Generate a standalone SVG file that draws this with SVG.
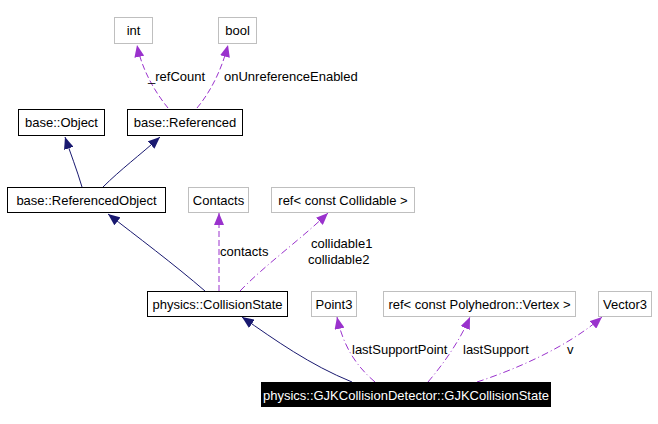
<svg xmlns="http://www.w3.org/2000/svg" width="658" height="424" viewBox="0 0 658 424">
<defs>
<marker id="an" markerUnits="userSpaceOnUse" markerWidth="13" markerHeight="10" refX="12" refY="5" orient="auto"><path d="M0,0 L12,5 L0,10 z" fill="#191970"/></marker>
<marker id="ap" markerUnits="userSpaceOnUse" markerWidth="13" markerHeight="10" refX="12" refY="5" orient="auto"><path d="M0,0 L12,5 L0,10 z" fill="#9a32cd"/></marker>
</defs>
<style>
text{font-family:"Liberation Sans",Arial,sans-serif;font-size:13px;fill:#000;text-anchor:middle}
.lbl{text-anchor:start}
.b rect{fill:#fff;stroke:#000;stroke-width:1}
.g rect{fill:#fff;stroke:#bfbfbf;stroke-width:1}
.n{fill:none;stroke:#191970;stroke-width:1;marker-end:url(#an)}
.d{fill:none;stroke:#9a32cd;stroke-width:1;stroke-dasharray:6,3;marker-end:url(#ap)}
.dd{fill:none;stroke:#9a32cd;stroke-width:1;stroke-dasharray:7,3,1,3;marker-end:url(#ap)}
</style>
<rect width="658" height="424" fill="#fff"/>
<g id="edges">
<path class="d" d="M168,108 C155,92 142,70 137,45"/>
<path class="d" d="M197,108 C212,90 222,68 228,45"/>
<path class="n" d="M82,187 C77,170 70,152 65,137"/>
<path class="n" d="M103,187 C120,170 140,155 160,137"/>
<path class="n" d="M205,291 C175,265 135,235 108,214"/>
<path class="d" d="M219,291 L219,213"/>
<path class="dd" d="M240,291 C265,265 300,240 328,213"/>
<path class="n" d="M352,382 C310,365 275,340 242,317"/>
<path class="dd" d="M375,382 C355,365 343,345 337,317"/>
<path class="dd" d="M428,382 C445,362 460,340 470,317"/>
<path class="dd" d="M477,382 C520,368 570,345 602,317"/>
<text class="lbl" x="148" y="81">_refCount</text>
<text class="lbl" x="224" y="81">onUnreferenceEnabled</text>
<text class="lbl" x="220" y="256">contacts</text>
<text class="lbl" x="311" y="248">collidable1</text>
<text class="lbl" x="308" y="264">collidable2</text>
<text class="lbl" x="352" y="354">lastSupportPoint</text>
<text class="lbl" x="463" y="354">lastSupport</text>
<text class="lbl" x="567" y="354">v</text>
</g>
<g id="int" class="g"><rect x="114.5" y="17.5" width="38" height="26"/><text x="133.5" y="35">int</text></g>
<g id="bool" class="g"><rect x="218.5" y="17.5" width="38" height="26"/><text x="237.5" y="35">bool</text></g>
<g id="base_Object" class="b"><rect x="18.5" y="109.5" width="86" height="26"/><text x="61.5" y="127">base::Object</text></g>
<g id="base_Referenced" class="b"><rect x="127.5" y="109.5" width="115" height="26"/><text x="185" y="127">base::Referenced</text></g>
<g id="base_ReferencedObject" class="b"><rect x="7.5" y="187.5" width="158" height="25"/><text x="86.5" y="205">base::ReferencedObject</text></g>
<g id="Contacts" class="g"><rect x="188.5" y="187.5" width="60" height="25"/><text x="218.5" y="205">Contacts</text></g>
<g id="ref_Collidable" class="g"><rect x="271.5" y="187.5" width="143" height="25"/><text x="343" y="205">ref&lt; const Collidable &gt;</text></g>
<g id="CollisionState" class="b"><rect x="147.5" y="291.5" width="140" height="25"/><text x="217.5" y="309">physics::CollisionState</text></g>
<g id="Point3" class="g"><rect x="311.5" y="291.5" width="45" height="25"/><text x="334" y="309">Point3</text></g>
<g id="ref_Vertex" class="g"><rect x="383.5" y="291.5" width="192" height="25"/><text x="479.5" y="309">ref&lt; const Polyhedron::Vertex &gt;</text></g>
<g id="Vector3" class="g"><rect x="598.5" y="291.5" width="53" height="25"/><text x="625" y="309">Vector3</text></g>
<g id="GJKCollisionState"><rect x="261" y="382" width="290" height="25" fill="#000"/><text x="406" y="400" style="fill:#fff">physics::GJKCollisionDetector::GJKCollisionState</text></g>
</svg>
